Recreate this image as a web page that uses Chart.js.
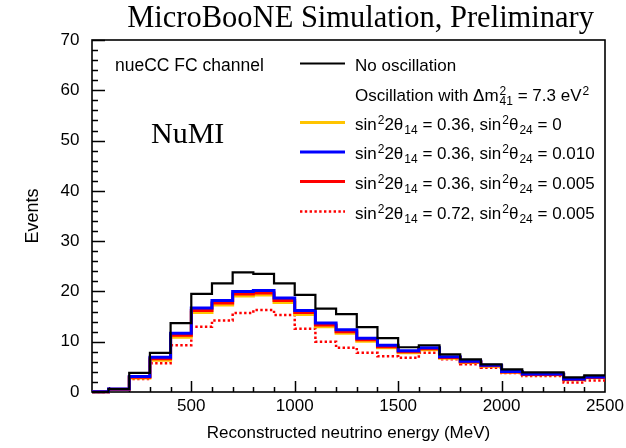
<!DOCTYPE html>
<html><head><meta charset="utf-8">
<script src="https://cdn.jsdelivr.net/npm/chart.js@4.4.1/dist/chart.umd.min.js"></script>
<style>html,body{margin:0;padding:0;background:#fff;}#wrap{width:626px;height:448px;position:relative;}</style>
</head><body><div id="wrap"><canvas id="c" width="626" height="448"></canvas></div>
<script>
// ---- data (bin left edges in MeV, 100 MeV bins) ----
const binEdges = [0,100,200,300,400,500,600,700,800,900,1000,1100,1200,1300,1400,1500,1600,1700,1800,1900,2000,2100,2200,2300,2400,2500];
const noOscillation = [0.0,0.6,3.8,7.8,13.7,19.5,21.6,23.8,23.5,21.6,19.3,16.6,15.5,12.9,10.7,8.9,9.3,7.5,6.5,5.5,4.5,3.9,3.9,2.9,3.3];
const s036_t24_0   = [0.05,0.5,2.8,6.3,10.9,15.8,17.3,19.1,19.3,17.8,15.4,13.0,11.7,10.1,8.8,7.8,8.4,6.7,5.85,5.1,3.95,3.45,3.45,2.45,2.85];
const s036_t24_010 = [0.05,0.6,3.1,6.9,11.7,16.7,18.2,20.0,20.2,18.7,16.2,13.7,12.4,10.7,9.3,8.2,8.8,7.0,6.1,5.3,4.1,3.6,3.6,2.6,3.0];
const s036_t24_005 = [0.05,0.55,2.95,6.6,11.3,16.2,17.7,19.5,19.7,18.2,15.8,13.3,12.0,10.4,9.0,8.0,8.6,6.85,5.95,5.2,4.0,3.5,3.5,2.5,2.9];
const s072_t24_005 = [0.0,0.5,2.6,5.7,9.3,13.0,14.2,15.7,16.3,15.3,12.6,10.0,8.8,7.8,7.1,6.8,7.8,6.5,5.5,4.8,3.8,3.2,3.2,1.9,2.3];
const xTickLabels = [500,1000,1500,2000,2500];
const yTickLabels = [0,10,20,30,40,50,60,70];

const SANS = '"Liberation Sans", Arial, Helvetica, sans-serif';
const SERIF = '"Liberation Serif", "Times New Roman", serif';

function steps(vals){
  return binEdges.map((x,i)=>({x:x, y: vals[Math.min(i, vals.length-1)]}));
}

const legendRows = [
  {color:'#000000', width:2.2, dash:[], parts:[{t:'No oscillation'}]},
  {color:null, parts:[{t:'Oscillation with \u0394m'},{ss:['2','41']},{t:' = 7.3 eV'},{sup:'2'}]},
  {color:'#ffc400', width:3, dash:[], parts:[{t:'sin'},{sup:'2'},{t:'2\u03b8'},{sub:'14'},{t:' = 0.36, sin'},{sup:'2'},{t:'\u03b8'},{sub:'24'},{t:' = 0'}]},
  {color:'#0000ff', width:3, dash:[], parts:[{t:'sin'},{sup:'2'},{t:'2\u03b8'},{sub:'14'},{t:' = 0.36, sin'},{sup:'2'},{t:'\u03b8'},{sub:'24'},{t:' = 0.010'}]},
  {color:'#ff0000', width:3, dash:[], parts:[{t:'sin'},{sup:'2'},{t:'2\u03b8'},{sub:'14'},{t:' = 0.36, sin'},{sup:'2'},{t:'\u03b8'},{sub:'24'},{t:' = 0.005'}]},
  {color:'#ff0000', width:2.5, dash:[2.4,2.4], parts:[{t:'sin'},{sup:'2'},{t:'2\u03b8'},{sub:'14'},{t:' = 0.72, sin'},{sup:'2'},{t:'\u03b8'},{sub:'24'},{t:' = 0.005'}]}
];

function drawRich(ctx, x, y, parts){
  const big = '17px ' + SANS, small = '12px ' + SANS;
  ctx.textAlign = 'left'; ctx.textBaseline = 'alphabetic';
  for (const p of parts){
    if (p.t !== undefined){ ctx.font = big; ctx.fillText(p.t, x, y); x += ctx.measureText(p.t).width; }
    else if (p.sup !== undefined){ ctx.font = small; ctx.fillText(p.sup, x+1, y-6); x += ctx.measureText(p.sup).width + 1; }
    else if (p.sub !== undefined){ ctx.font = small; ctx.fillText(p.sub, x+1, y+4); x += ctx.measureText(p.sub).width + 1; }
    else if (p.ss){ ctx.font = small; ctx.fillText(p.ss[0], x+1, y-6); ctx.fillText(p.ss[1], x+1, y+4);
      x += Math.max(ctx.measureText(p.ss[0]).width, ctx.measureText(p.ss[1]).width) + 1; }
  }
}

const framePlugin = {
  id:'frame',
  beforeDatasetsDraw(chart){
    const {ctx, chartArea:a, scales:{x, y}} = chart;
    ctx.save();
    ctx.strokeStyle = '#000'; ctx.lineWidth = 1.6; ctx.setLineDash([]);
    ctx.strokeRect(a.left, a.top, a.right - a.left, a.bottom - a.top);
    ctx.lineWidth = 1.5;
    ctx.beginPath();
    for (let v = 0; v <= 70; v += 2){
      const py = Math.round(y.getPixelForValue(v)) + 0.5;
      const len = (v % 10 === 0) ? 13 : 6;
      ctx.moveTo(a.left, py); ctx.lineTo(a.left + len, py);
    }
    for (let v = 100; v < 2500; v += 100){
      const px = Math.round(x.getPixelForValue(v)) + 0.5;
      const len = (v % 500 === 0) ? 11 : 5;
      ctx.moveTo(px, a.bottom); ctx.lineTo(px, a.bottom - len);
    }
    ctx.stroke();
    ctx.restore();
  },
  afterDraw(chart){
    const ctx = chart.ctx;
    ctx.save();
    ctx.fillStyle = '#000';
    ctx.font = '30.5px ' + SERIF; ctx.textAlign = 'right'; ctx.textBaseline = 'alphabetic';
    ctx.fillText('MicroBooNE Simulation, Preliminary', 594, 27);
    ctx.textAlign = 'left';
    ctx.font = '30px ' + SERIF;
    ctx.fillText('NuMI', 151, 143);
    ctx.font = '17.5px ' + SANS;
    ctx.fillText('nueCC FC channel', 115, 71);
    const base = [70.5, 101, 129.5, 159, 188.5, 218.5];
    legendRows.forEach((r, i) => {
      if (r.color){
        ctx.save();
        ctx.strokeStyle = r.color; ctx.lineWidth = r.width; ctx.setLineDash(r.dash);
        ctx.beginPath(); ctx.moveTo(300, base[i] - 7); ctx.lineTo(345, base[i] - 7); ctx.stroke();
        ctx.restore();
      }
      ctx.fillStyle = '#000';
      drawRich(ctx, 355, base[i], r.parts);
    });
    ctx.restore();
  }
};

function ds(label, vals, color, width, dash, order){
  return {label, data: steps(vals), borderColor: color, borderWidth: width, borderDash: dash,
    stepped: true, pointRadius: 0, fill: false, tension: 0, order: order,
    clip: {left: 0, top: 0, right: 0, bottom: 2}};
}

new Chart(document.getElementById('c'), {
  type: 'line',
  data: { datasets: [
    ds('No oscillation', noOscillation, '#000000', 2.2, [], 1),
    ds('sin22θ14 = 0.36, sin2θ24 = 0.010', s036_t24_010, '#0000ff', 3, [], 2),
    ds('sin22θ14 = 0.36, sin2θ24 = 0.005', s036_t24_005, '#ff0000', 3, [], 3),
    ds('sin22θ14 = 0.36, sin2θ24 = 0', s036_t24_0, '#ffc400', 3, [], 4),
    ds('sin22θ14 = 0.72, sin2θ24 = 0.005', s072_t24_005, '#ff0000', 2.5, [2.4,2.4], 5)
  ]},
  options: {
    responsive: false, animation: false, devicePixelRatio: 1,
    layout: { padding: { top: 40, right: 21, left: 0, bottom: 0 } },
    plugins: { legend: { display: false }, tooltip: { enabled: false }, title: { display: false } },
    scales: {
      x: {
        type: 'linear', min: 20, max: 2500,
        afterBuildTicks: s => { s.ticks = xTickLabels.map(v => ({value: v})); },
        afterFit: s => { s.height = 56; },
        grid: { display: false }, border: { display: false },
        ticks: { font: { family: SANS, size: 17 }, color: '#000', padding: -4, maxRotation: 0, autoSkip: false,
                 callback: v => String(v) },
        title: { display: true, text: 'Reconstructed neutrino energy (MeV)', color: '#000',
                 font: { family: SANS, size: 17 }, padding: { top: 0, bottom: 4 } }
      },
      y: {
        type: 'linear', min: 0, max: 70,
        afterBuildTicks: s => { s.ticks = yTickLabels.map(v => ({value: v})); },
        afterFit: s => { s.width = 92; },
        grid: { display: false }, border: { display: false },
        ticks: { font: { family: SANS, size: 17 }, color: '#000', padding: 4.5, callback: v => String(v) },
        title: { display: true, text: 'Events', color: '#000',
                 font: { family: SANS, size: 18 }, padding: { top: 22, bottom: 0 } }
      }
    }
  },
  plugins: [framePlugin]
});
</script>
</body></html>
